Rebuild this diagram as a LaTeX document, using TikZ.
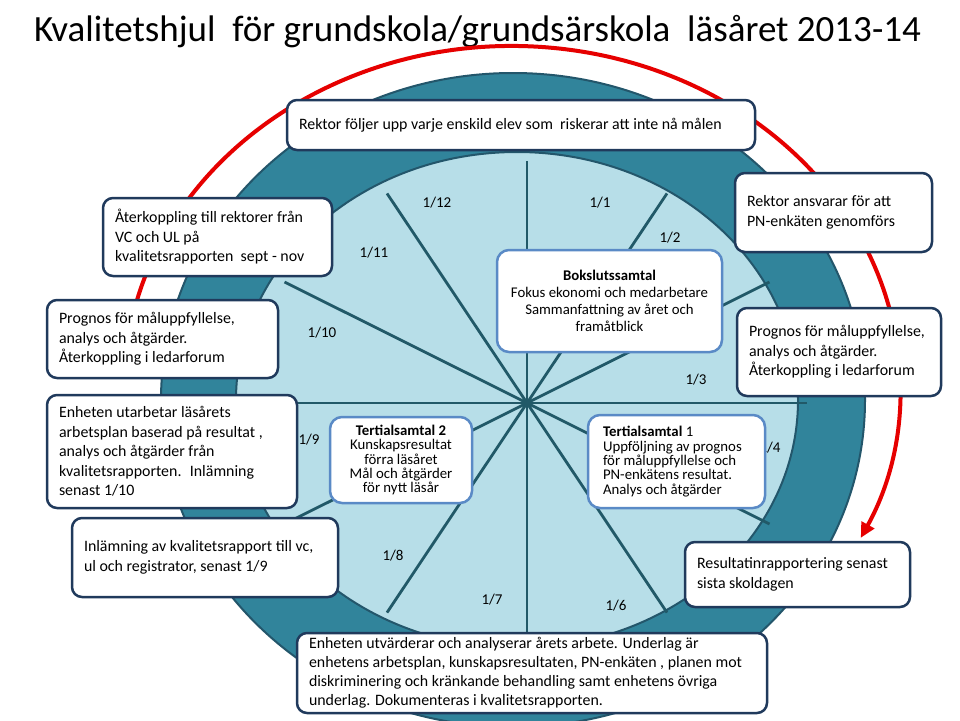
\documentclass[tikz,border=0pt]{standalone}
\usepackage{fontspec}
\setmainfont{Carlito}
\usetikzlibrary{arrows.meta,calc}
\hyphenpenalty=10000
\exhyphenpenalty=10000

\definecolor{ringmork}{HTML}{31849B}
\definecolor{ringkant}{HTML}{23566B}
\definecolor{ljusbla}{HTML}{B7DEE8}
\definecolor{ekerfarg}{HTML}{215968}
\definecolor{rutkant}{HTML}{203A5C}
\definecolor{mittkant}{HTML}{5A8AC6}
\definecolor{pilrod}{HTML}{E60000}

\tikzset{
  ruta/.style={draw=rutkant, line width=2.5pt, fill=white, rounded corners=10pt,
    align=flush left, inner xsep=12pt, inner ysep=0pt, font=\fontsize{15.9}{19.5}\selectfont},
  mittruta/.style={draw=mittkant, line width=2.5pt, fill=white, rounded corners=12pt,
    inner xsep=8pt, inner ysep=0pt, font=\fontsize{14.8}{14.3}\selectfont},
  datum/.style={inner sep=0pt, font=\fontsize{15}{18}\selectfont},
}

\begin{document}
\begin{tikzpicture}[x=1pt, y=-1pt]
    \useasboundingbox[fill=white](0,0)rectangle(960,720);
    \coordinate(rodmitt)at(512,388); % röda pilen
    \coordinate(yttre)at(513,400);   % mörka ringen
    \coordinate(inre)at(517,400);    % ljusa fältet
    \coordinate(nav)at(527,403);     % ekrarnas mitt

    % rubrik
    \node[font=\fontsize{37}{40}\selectfont](rubrik)at(477.5,32)
        {Kvalitetshjul~ för grundskola/grundsärskola~ läsåret 2013-14};

    % röd pil runt hjulet
    \path[draw, pilrod, line width=4pt, -{Triangle[length=15pt, width=14pt]}]
        ($(rodmitt)+(-170:388 and 342)$) arc[start angle=-170, end angle=26, x radius=388, y radius=342];

    % hjulet
    \path[draw=ringkant, line width=2pt, fill=ringmork](yttre) ellipse[x radius=352, y radius=327];
    \path[draw=ringkant, line width=2pt, fill=ljusbla](inre) ellipse[x radius=281, y radius=248];
    \foreach \v in {0,30,...,330}
        \path[draw, ekerfarg, line width=2.8pt](nav)--++(\v:280 and 242);

    % månader
    \node[datum](m1)at(600,203){1/1};
    \node[datum](m2)at(670,238){1/2};
    \node[datum](m3)at(696,380){1/3};
    \node[datum](m4)at(770,448){1/4};
    \node[datum](m6)at(616,606){1/6};
    \node[datum](m7)at(492,600){1/7};
    \node[datum](m8)at(393,556){1/8};
    \node[datum](m9)at(309,440){1/9};
    \node[datum](m10)at(322,333){1/10};
    \node[datum](m11)at(374,253){1/11};
    \node[datum](m12)at(437,203){1/12};

    % samtal i mitten
    \node[mittruta, align=center, minimum width=225, minimum height=102,
        font=\fontsize{14.8}{17.2}\selectfont](bokslut)at(609.5,301)
        {\textbf{Bokslutssamtal}\\ Fokus ekonomi och medarbetare\\ Sammanfattning av året och\\ framåtblick};
    \node[mittruta, align=center, minimum width=142, minimum height=86](tertial2)at(401,460)
        {\textbf{Tertialsamtal 2}\\ Kunskapsresultat\\ förra läsåret\\ Mål och åtgärder\\ för nytt läsår};
    \node[mittruta, align=flush left, text width=147, inner xsep=15pt, minimum height=93](tertial1)at(676.5,461.5)
        {\textbf{Tertialsamtal} 1\\ Uppföljning av prognos\\ för måluppfyllelse och\\ PN-enkätens resultat.\\ Analys och åtgärder};

    % rutor runt hjulet
    \node[ruta, text width=444, minimum height=50](rektor)at(521,125)
        {Rektor följer upp varje enskild elev som~ riskerar att inte nå målen};
    \node[ruta, text width=205, minimum height=78](aterkoppling)at(217.5,237)
        {Återkoppling till rektorer från\\ VC och UL på\\ kvalitetsrapporten~ sept - nov};
    \node[ruta, text width=207, minimum height=78](prognosV)at(162.5,339)
        {Prognos för måluppfyllelse,\\ analys och åtgärder.\\ Återkoppling i ledarforum};
    \node[ruta, text width=226, minimum height=113](arbetsplan)at(172,451.5)
        {Enheten utarbetar läsårets\\ arbetsplan baserad på resultat ,\\ analys och åtgärder från\\ kvalitetsrapporten.~ Inlämning\\ senast 1/10};
    \node[ruta, text width=242, minimum height=79](inlamning)at(205,557.5)
        {Inlämning av kvalitetsrapport till vc,\\ ul och registrator, senast 1/9};
    \node[ruta, text width=173, minimum height=79](ansvar)at(833.5,212.5)
        {Rektor ansvarar för att\\ PN-enkäten genomförs};
    \node[ruta, text width=180, minimum height=88](prognosH)at(839,352)
        {Prognos för måluppfyllelse,\\ analys och åtgärder.\\ Återkoppling i ledarforum};
    \node[ruta, text width=201, minimum height=65](resultat)at(797.5,574.5)
        {Resultatinrapportering senast\\ sista skoldagen};
    \node[ruta, text width=446, minimum height=80, font=\fontsize{15.9}{19}\selectfont](utvardering)at(532,673)
        {Enheten utvärderar och analyserar årets arbete. Underlag är\\
         enhetens arbetsplan, kunskapsresultaten, PN-enkäten , planen mot\\
         diskriminering och kränkande behandling samt enhetens övriga\\
         underlag. Dokumenteras i kvalitetsrapporten.};
\end{tikzpicture}
\end{document}
